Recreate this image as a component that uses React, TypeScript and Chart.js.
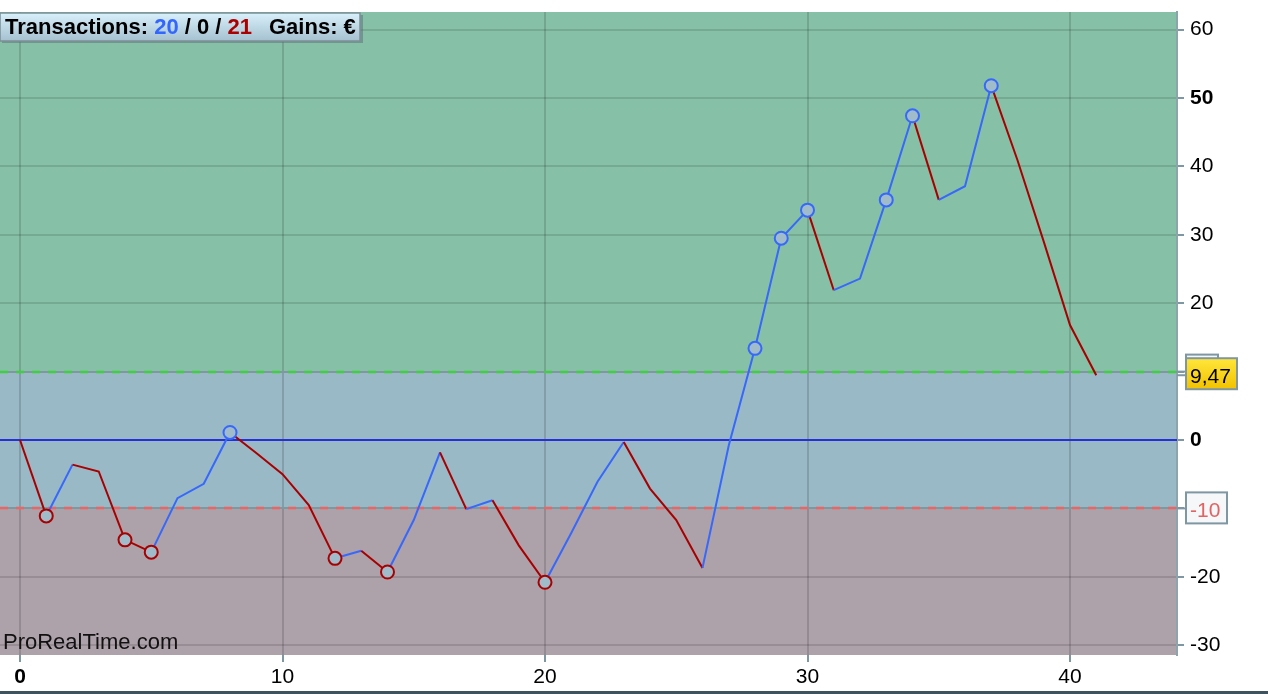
import React, { useEffect, useRef } from "react";
import { Chart, registerables } from "chart.js";

Chart.register(...registerables);

// trade number on x, cumulative gain (€) on y
const equity = [
  0, -11.1, -3.6, -4.6, -14.6, -16.4, -8.5, -6.4, 1.1, -1.9, -5.0, -9.5, -17.3,
  -16.2, -19.3, -11.7, -1.8, -10.1, -8.8, -15.4, -20.8, -13.6, -6.1, -0.3, -7.1,
  -11.7, -18.7, -0.8, 13.4, 29.5, 33.6, 21.9, 23.6, 35.1, 47.4, 35.1, 37.1, 51.8,
  40.9, 29.0, 16.8, 9.47,
];
const steps = equity.map((_, i) => i);
// points drawn with a circle marker
const markers = [1, 4, 5, 8, 12, 14, 20, 28, 29, 30, 33, 34, 37];

const xTicks = [0, 10, 20, 30, 40];
const yTicks = [-30, -20, -10, 0, 10, 20, 30, 40, 50, 60];
const boldTicks = [0, 50];
const upperLevel = 10;
const lowerLevel = -10;
const lastValue = 9.47;
const lastLabel = "9,47";
const winCount = 20;
const neutralCount = 0;
const lossCount = 21;

const FONT = '"Liberation Sans", Arial, Helvetica, sans-serif';
const UP = "#3768fb";
const DOWN = "#a80000";
const TICK = "#7f97a2";

const overlay = {
  id: "overlay",
  beforeDraw(chart: any) {
    const { ctx, chartArea, scales } = chart;
    const { left, right, top, bottom } = chartArea;
    const y = scales.y;
    const yUp = y.getPixelForValue(upperLevel);
    const yLo = y.getPixelForValue(lowerLevel);
    ctx.save();
    ctx.fillStyle = "#fff";
    ctx.fillRect(0, 0, chart.width, chart.height);
    ctx.fillStyle = "#86c1a7";
    ctx.fillRect(left, top, right - left, yUp - top);
    ctx.fillStyle = "#99b9c7";
    ctx.fillRect(left, yUp, right - left, yLo - yUp);
    ctx.fillStyle = "#ada1aa";
    ctx.fillRect(left, yLo, right - left, bottom - yLo);
    ctx.restore();
  },
  beforeDatasetsDraw(chart: any) {
    const { ctx, chartArea, scales } = chart;
    const { left, right } = chartArea;
    const y = scales.y;
    ctx.save();
    const dashed = (v: number, color: string) => {
      const p = Math.round(y.getPixelForValue(v));
      ctx.setLineDash([]);
      ctx.strokeStyle = "#7f979f";
      ctx.lineWidth = 2;
      ctx.beginPath();
      ctx.moveTo(left, p);
      ctx.lineTo(right, p);
      ctx.stroke();
      ctx.setLineDash([8, 8]);
      ctx.lineWidth = 2.5;
      ctx.strokeStyle = color;
      ctx.beginPath();
      ctx.moveTo(left, p);
      ctx.lineTo(right, p);
      ctx.stroke();
    };
    dashed(upperLevel, "#44cc44");
    dashed(lowerLevel, "#e86666");
    ctx.setLineDash([]);
    const z = Math.round(y.getPixelForValue(0));
    ctx.strokeStyle = "#2630d6";
    ctx.lineWidth = 2;
    ctx.beginPath();
    ctx.moveTo(left, z);
    ctx.lineTo(right, z);
    ctx.stroke();
    ctx.restore();
  },
  afterDraw(chart: any) {
    const { ctx, chartArea, scales } = chart;
    const { right } = chartArea;
    const y = scales.y;
    ctx.save();

    const box = (
      v: number,
      w: number,
      dy: number,
      text: string,
      color: string,
      fill: string | CanvasGradient
    ) => {
      const p = y.getPixelForValue(v);
      const bx = right + 9;
      const by = p - 17 + dy;
      ctx.strokeStyle = TICK;
      ctx.lineWidth = 2;
      ctx.beginPath();
      ctx.moveTo(right, p);
      ctx.lineTo(bx, p);
      ctx.stroke();
      ctx.fillStyle = fill;
      ctx.fillRect(bx, by, w, 31);
      ctx.strokeRect(bx, by, w, 31);
      ctx.fillStyle = color;
      ctx.font = `21px ${FONT}`;
      ctx.textBaseline = "alphabetic";
      ctx.textAlign = "left";
      ctx.fillText(text, bx + 4, by + 25);
    };
    box(upperLevel, 32, 0, String(upperLevel), "#3a9a3a", "#f5f7f8");
    box(lowerLevel, 41, 1, String(lowerLevel), "#e06464", "#f5f7f8");
    const pLast = y.getPixelForValue(lastValue);
    const g = ctx.createLinearGradient(0, pLast - 16, 0, pLast + 14);
    g.addColorStop(0, "#ffe53a");
    g.addColorStop(1, "#f2c200");
    box(lastValue, 51, 0, lastLabel, "#000", g);

    // title box
    const tg = ctx.createLinearGradient(0, 13, 0, 41);
    tg.addColorStop(0, "#d8f0fb");
    tg.addColorStop(1, "#a5c0cf");
    ctx.fillStyle = "rgba(90,110,120,0.5)";
    ctx.fillRect(2, 15, 361, 28);
    ctx.fillStyle = tg;
    ctx.fillRect(0, 13, 360, 28);
    ctx.strokeStyle = "#7c8e97";
    ctx.lineWidth = 1.5;
    ctx.strokeRect(0, 13, 360, 28);
    ctx.font = `bold 22px ${FONT}`;
    ctx.textBaseline = "alphabetic";
    let x = 5;
    const part = (t: string, c: string) => {
      ctx.fillStyle = c;
      ctx.fillText(t, x, 34);
      x += ctx.measureText(t).width;
    };
    part("Transactions: ", "#000");
    part(String(winCount), "#3366ff");
    part(` / ${neutralCount} / `, "#000");
    part(String(lossCount), "#aa0000");
    x += 17;
    part("Gains: €", "#000");

    // watermark
    ctx.font = `22px ${FONT}`;
    ctx.fillStyle = "#111";
    ctx.fillText("ProRealTime.com", 3, 649);

    // bottom bar
    ctx.fillStyle = "#3e535d";
    ctx.fillRect(0, chart.height - 3, chart.width, 3);
    ctx.restore();
  },
};

export default function App() {
  const canvasRef = useRef<HTMLCanvasElement | null>(null);

  useEffect(() => {
    document.body.style.margin = "0";
    if (!canvasRef.current) return;

    const chart = new Chart(canvasRef.current, {
      type: "line",
      data: {
        labels: steps,
        datasets: [
          {
            data: steps.map((s, i) => ({ x: s, y: equity[i] })),
            borderWidth: 2,
            tension: 0,
            pointRadius: steps.map((i) => (markers.includes(i) ? 6.5 : 0)),
            pointHoverRadius: steps.map((i) => (markers.includes(i) ? 6.5 : 0)),
            pointBorderWidth: 2,
            pointBackgroundColor: "#a0bccb",
            pointBorderColor: steps.map((i) =>
              i > 0 && equity[i] >= equity[i - 1] ? UP : DOWN
            ),
            segment: {
              borderColor: (c: any) =>
                c.p1.parsed.y >= c.p0.parsed.y ? UP : DOWN,
            },
          },
        ],
      },
      options: {
        responsive: false,
        animation: false,
        layout: { padding: { top: 12, left: 0, right: 0, bottom: 0 } },
        plugins: { legend: { display: false }, tooltip: { enabled: false } },
        scales: {
          x: {
            type: "linear",
            min: -20 / 26.25,
            max: 1157 / 26.25,
            afterBuildTicks: (s: any) => {
              s.ticks = xTicks.map((v) => ({ value: v }));
            },
            afterFit: (s: any) => {
              s.height = 39;
              s.paddingLeft = 0;
              s.paddingRight = 0;
            },
            border: { display: false },
            grid: {
              color: "rgba(0,0,0,0.14)",
              lineWidth: 2,
              tickLength: 7,
              tickColor: TICK,
              tickWidth: 2,
            },
            ticks: {
              padding: 3,
              color: "#000",
              maxRotation: 0,
              font: (c: any) => ({
                family: FONT,
                size: 21,
                weight: c.tick && c.tick.value === 0 ? "bold" : "normal",
              }),
            },
          },
          y: {
            type: "linear",
            position: "right",
            min: -215 / 6.84,
            max: 428 / 6.84,
            afterBuildTicks: (s: any) => {
              s.ticks = yTicks.map((v) => ({ value: v }));
            },
            afterFit: (s: any) => {
              s.width = 91;
              s.paddingTop = 0;
              s.paddingBottom = 0;
            },
            border: { display: true, color: "#8ea4ad", width: 2 },
            grid: {
              color: "rgba(0,0,0,0.12)",
              lineWidth: 2,
              tickLength: 7,
              tickColor: TICK,
              tickWidth: 2,
            },
            ticks: {
              padding: 6,
              color: "#000",
              callback: (v: any) =>
                v === upperLevel || v === lowerLevel ? "" : String(v),
              font: (c: any) => ({
                family: FONT,
                size: 21,
                weight:
                  c.tick && boldTicks.includes(c.tick.value) ? "bold" : "normal",
              }),
            },
          },
        },
      },
      plugins: [overlay],
    });

    return () => chart.destroy();
  }, []);

  return (
    <div style={{ width: 1268, height: 694, background: "#fff" }}>
      <canvas
        ref={canvasRef}
        width={1268}
        height={694}
        style={{ display: "block" }}
      />
    </div>
  );
}
